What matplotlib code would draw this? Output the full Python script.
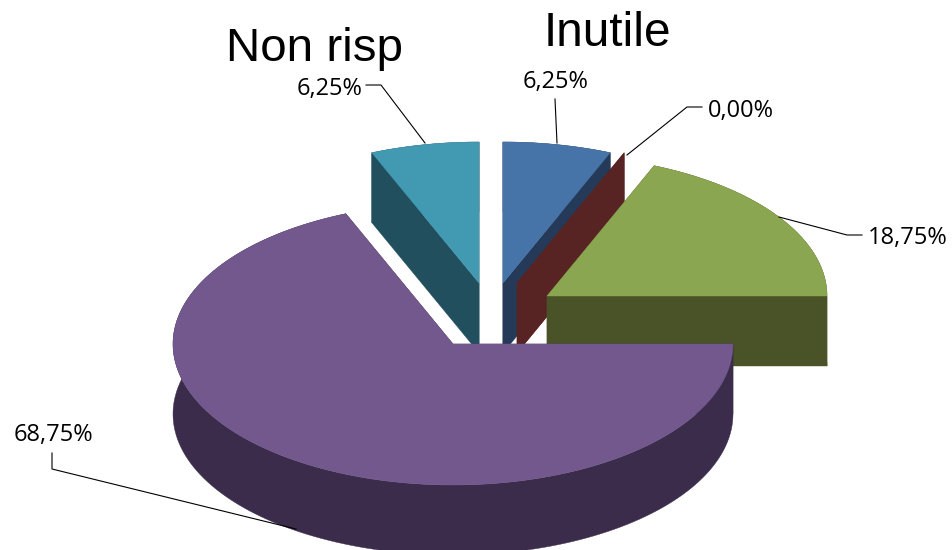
import numpy as np
import matplotlib
matplotlib.use('Agg')
import matplotlib.pyplot as plt
from matplotlib.patches import Polygon

valori = [6.25, 0.0, 18.75, 68.75, 6.25]
testi_extra = ['Inutile', 'Non risp']

# colori: faccia sopra, lato
col_top = ['#4674A8', '#A94643', '#8BA650', '#72588D', '#4299B2']
col_lato = ['#243A58', '#572423', '#4A5327', '#3B2C4C', '#224F5D']

# centro di ogni fetta esplosa, in pixel
centri = [(503, 283), (517, 283), (547, 296), (453, 344), (479, 283)]
rx = 280
ry = 141
spessore = 70

def punto(c, t):
    return c[0] + rx * np.sin(t), c[1] - ry * np.cos(t)

fig = plt.figure(figsize=(9.53, 5.5), dpi=100)
ax = fig.add_axes([0, 0, 1, 1])
ax.set_xlim(0, 953)
ax.set_ylim(550, 0)
ax.axis('off')

fine = np.cumsum(valori) / 100 * 2 * np.pi
inizio = fine - np.array(valori) / 100 * 2 * np.pi

# il viola va per ultimo, copre gli altri
for i in [4, 0, 1, 2, 3]:
    c = centri[i]
    t = np.linspace(inizio[i], fine[i], 150)
    x, y = punto(c, t)
    for a in (inizio[i], fine[i]):
        px, py = punto(c, a)
        faccia = [c, (px, py), (px, py + spessore), (c[0], c[1] + spessore)]
        ax.add_patch(Polygon(faccia, closed=True, fc=col_lato[i], ec=col_lato[i], lw=0.3))
    if valori[i] == 0:
        continue
    muro = np.concatenate([np.column_stack([x, y]), np.column_stack([x, y + spessore])[::-1]])
    ax.add_patch(Polygon(muro, closed=True, fc=col_lato[i], ec=col_lato[i], lw=0.3))
    sopra = np.vstack([[c], np.column_stack([x, y])])
    ax.add_patch(Polygon(sopra, closed=True, fc=col_top[i], ec=col_top[i], lw=0.3))

# linee guida ed etichette
guide = [
    [(555, 99), (557, 143)],
    [(627, 155), (687, 107), (702, 107)],
    [(779, 217), (847, 235), (862, 235)],
    [(52, 453), (52, 469), (296, 529)],
    [(425, 143), (381, 85), (366, 85)],
]
pos_etichette = [(556, 82), (740.5, 111), (907.5, 238), (53, 435), (330, 89)]

for i, v in enumerate(valori):
    g = np.array(guide[i])
    ax.plot(g[:, 0], g[:, 1], color='black', lw=0.8, solid_joinstyle='miter')
    ax.text(pos_etichette[i][0], pos_etichette[i][1], f'{v:.2f}%'.replace('.', ','),
            family='Open Sans', fontsize=17, ha='center', va='center', color='black')

ax.text(607, 34, testi_extra[0], family='Liberation Sans', fontsize=34.4, ha='center', va='center')
ax.text(314.5, 49, testi_extra[1], family='Liberation Sans', fontsize=34.2, ha='center', va='center')

fig.savefig('out.png', dpi=100)
